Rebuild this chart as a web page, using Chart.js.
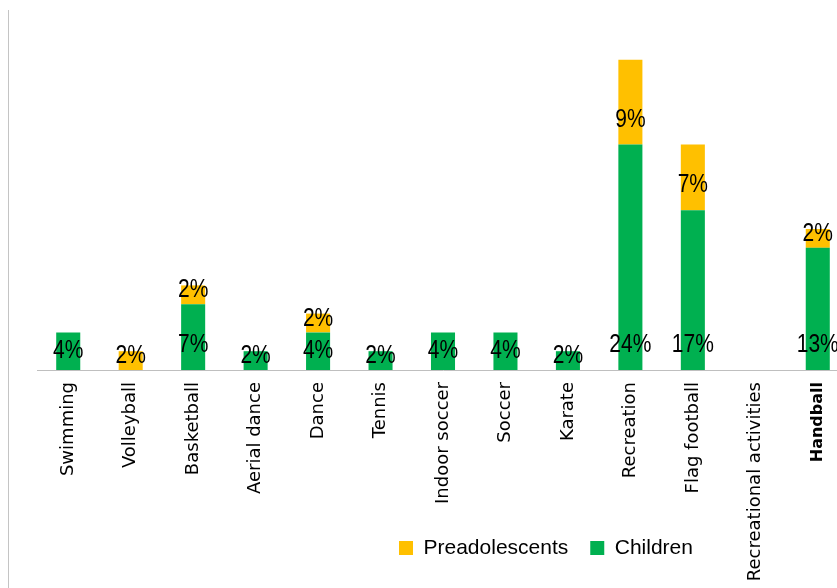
<!DOCTYPE html>
<html>
<head>
<meta charset="utf-8">
<script src="https://cdn.jsdelivr.net/npm/chart.js@4.4.1/dist/chart.umd.min.js"></script>
<style>
  html, body { margin: 0; padding: 0; background: #fff; overflow: hidden; }
  #wrap { width: 880px; height: 588px; }
</style>
</head>
<body>
<div id="wrap"><canvas id="chart" width="880" height="588"></canvas></div>
<script>
const categories = ['Swimming', 'Volleyball', 'Basketball', 'Aerial dance', 'Dance', 'Tennis',
    'Indoor soccer', 'Soccer', 'Karate', 'Recreation', 'Flag football',
    'Recreational activities', 'Handball'];
const children = [4, 0, 7, 2, 4, 2, 4, 4, 2, 24, 17, 0, 13];
const preadolescents = [0, 2, 2, 0, 2, 0, 0, 0, 0, 9, 7, 0, 2];
const yMax = 35;

const GREEN = '#00B050';
const ORANGE = '#FFC000';
const AXIS_HEIGHT = 218;

// thin frame line on the left edge
const frameLine = {
    id: 'frameLine',
    beforeDraw(chart) {
        const c = chart.ctx;
        c.save();
        c.strokeStyle = '#c4c4c4';
        c.lineWidth = 1;
        c.beginPath();
        c.moveTo(8.5, 10);
        c.lineTo(8.5, chart.height);
        c.stroke();
        c.restore();
    }
};

// legend floats over the label area, so it takes no layout height
const legendSpot = {
    id: 'legendSpot',
    beforeLayout(chart) {
        const lg = chart.legend;
        if (!lg || lg._floatFit) return;
        const fit = lg.fit;
        lg.fit = function () {
            fit.call(this);
            this._fullHeight = this.height;
            this.height = 0;
        };
        lg._floatFit = true;
    },
    afterLayout(chart) {
        const lg = chart.legend;
        const pad = lg.options.labels.padding;
        const w = lg.width, h = lg._fullHeight;
        lg.left = 399 - pad;
        lg.right = lg.left + w;
        lg.top = 548 - 10.5 - pad;
        lg.bottom = lg.top + h;
        lg.height = h;
    }
};

// percentage labels near the base of each segment
const barLabels = {
    id: 'barLabels',
    afterDatasetsDraw(chart) {
        const c = chart.ctx;
        c.save();
        c.font = '21px "Liberation Sans", Arial, sans-serif';
        c.fillStyle = '#000';
        c.textAlign = 'center';
        c.textBaseline = 'middle';
        chart.data.datasets.forEach((ds, i) => {
            chart.getDatasetMeta(i).data.forEach((bar, j) => {
                const v = ds.data[j];
                if (!v) return;
                const mid = (bar.y + bar.base) / 2;
                const y = Math.min(Math.max(mid, bar.base - 25), bar.base - 14);
                c.save();
                c.translate(bar.x, y);
                c.scale(1, 1.25);
                c.fillText(v + '%', 0, 0);
                c.restore();
            });
        });
        c.restore();
    }
};

const data = {
    labels: categories,
    datasets: [
        {
            label: 'Children',
            data: children,
            backgroundColor: GREEN
        },
        {
            label: 'Preadolescents',
            data: preadolescents,
            backgroundColor: ORANGE
        }
    ]
};

const chartConfig = {
    type: 'bar',
    data: data,
    options: {
        responsive: false,
        animation: false,
        barPercentage: 0.385,
        categoryPercentage: 1,
        layout: {
            padding: { top: 41, left: 37, right: 31, bottom: 0 }
        },
        scales: {
            x: {
                stacked: true,
                grid: { display: false, drawTicks: false },
                border: { display: true, color: '#bfbfbf', width: 1 },
                ticks: {
                    autoSkip: false,
                    minRotation: 90,
                    maxRotation: 90,
                    padding: 12,
                    color: '#000',
                    font: ctx => ctx.index === 12
                        ? { family: '"DejaVu Sans", sans-serif', size: 16, weight: 'bold' }
                        : { family: '"DejaVu Sans", sans-serif', size: 18 }
                },
                afterFit: scale => { scale.height = AXIS_HEIGHT; }
            },
            y: {
                stacked: true,
                display: false,
                min: 0,
                max: yMax
            }
        },
        plugins: {
            tooltip: { enabled: false },
            legend: {
                position: 'bottom',
                align: 'start',
                reverse: true,
                labels: {
                    boxWidth: 14,
                    boxHeight: 14,
                    padding: 22,
                    color: '#000',
                    font: { family: '"Liberation Sans", Arial, sans-serif', size: 21 }
                }
            }
        }
    },
    plugins: [frameLine, legendSpot, barLabels]
};

const ctx = document.getElementById('chart').getContext('2d');
const chart = new Chart(ctx, chartConfig);
</script>
</body>
</html>
